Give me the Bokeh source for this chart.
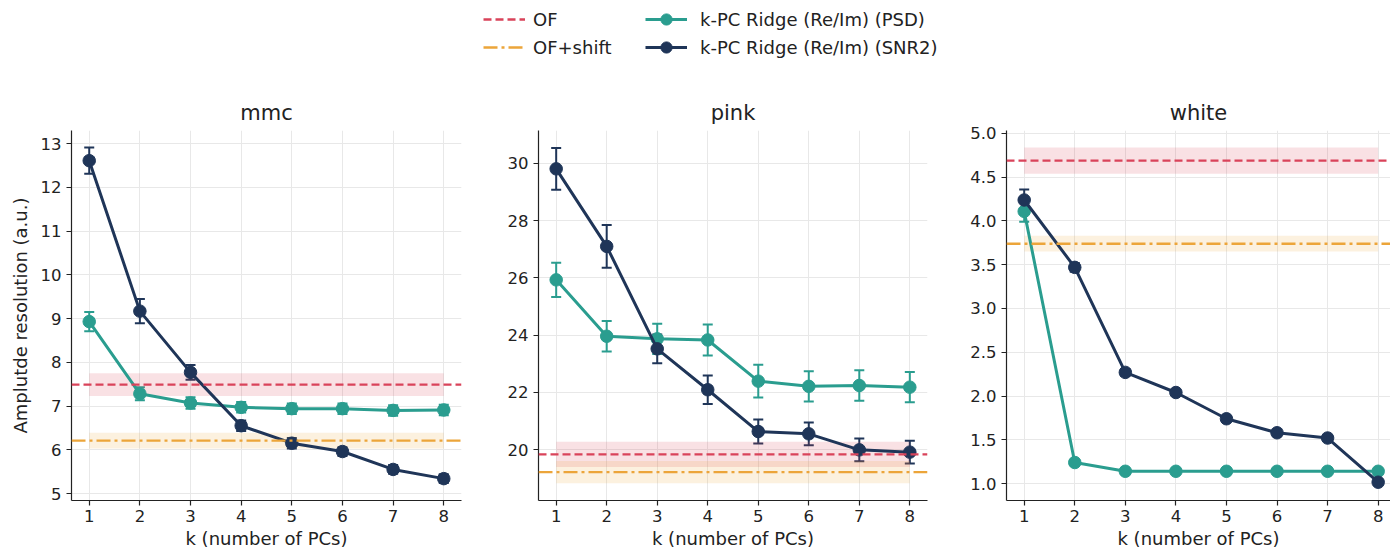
import math
from bokeh.plotting import figure
from bokeh.models import (Whisker, TeeHead, ColumnDataSource, Span, Legend, LegendItem,
                          Range1d, FixedTicker, NumeralTickFormatter)
from bokeh.layouts import column, row
from bokeh.embed import file_html
from bokeh.resources import INLINE

# ---------------- data ----------------
k = [1, 2, 3, 4, 5, 6, 7, 8]
panels = ["mmc", "pink", "white"]

mmc_psd = [8.93, 7.28, 7.07, 6.97, 6.94, 6.94, 6.90, 6.91]
mmc_psd_err = [0.22, 0.15, 0.13, 0.12, 0.12, 0.12, 0.12, 0.12]
mmc_snr2 = [12.61, 9.17, 7.77, 6.55, 6.15, 5.96, 5.55, 5.34]
mmc_snr2_err = [0.30, 0.28, 0.17, 0.12, 0.12, 0.10, 0.10, 0.10]
mmc_of = [7.49, 0.26]
mmc_ofs = [6.21, 0.18]

pink_psd = [25.93, 23.96, 23.87, 23.83, 22.39, 22.21, 22.24, 22.18]
pink_psd_err = [0.60, 0.53, 0.53, 0.54, 0.57, 0.53, 0.53, 0.53]
pink_snr2 = [29.81, 27.10, 23.52, 22.09, 20.63, 20.55, 19.99, 19.91]
pink_snr2_err = [0.73, 0.75, 0.50, 0.50, 0.42, 0.40, 0.40, 0.40]
pink_of = [19.83, 0.44]
pink_ofs = [19.21, 0.39]

white_psd = [4.11, 1.24, 1.14, 1.14, 1.14, 1.14, 1.14, 1.14]
white_psd_err = [0.12, 0.02, 0.01, 0.01, 0.01, 0.01, 0.01, 0.01]
white_snr2 = [4.24, 3.47, 2.27, 2.04, 1.74, 1.58, 1.52, 1.015]
white_snr2_err = [0.12, 0.05, 0.04, 0.03, 0.03, 0.03, 0.03, 0.03]
white_of = [4.69, 0.15]
white_ofs = [3.74, 0.09]

y_ticks_mmc = [5, 6, 7, 8, 9, 10, 11, 12, 13]
y_ticks_pink = [20, 22, 24, 26, 28, 30]
y_ticks_white = [1.0, 1.5, 2.0, 2.5, 3.0, 3.5, 4.0, 4.5, 5.0]

labels = ["OF", "OF+shift", "k-PC Ridge (Re/Im) (PSD)", "k-PC Ridge (Re/Im) (SNR2)"]

# ---------------- style ----------------
RED = "#d9435a"
ORANGE = "#eca53a"
TEAL = "#2a9d8f"
NAVY = "#1f3558"
FONT = "DejaVu Sans"
TXT = "#222222"
DASH = "8 4"
DASHDOT = "14 4 3 4"

def make_panel(title, psd, psd_err, snr, snr_err, of, ofs, yr, xr, yticks,
               width, left, right, ylabel=None, fmt=None):
    p = figure(width=width, height=463, output_backend="svg", toolbar_location=None,
               x_range=Range1d(*xr), y_range=Range1d(*yr),
               min_border_left=left, min_border_right=right,
               min_border_top=40, min_border_bottom=53)
    p.outline_line_color = None
    p.background_fill_color = "white"
    p.border_fill_color = "white"
    p.title.text = title
    p.title.align = "center"
    p.title.text_font = FONT
    p.title.text_font_size = "21px"
    p.title.text_font_style = "normal"
    p.title.text_color = TXT
    p.title.standoff = 11
    for ax in (p.xaxis[0], p.yaxis[0]):
        ax.axis_line_color = TXT
        ax.axis_line_width = 1.2
        ax.major_tick_line_color = TXT
        ax.major_tick_line_width = 1.2
        ax.major_tick_out = 5
        ax.major_tick_in = 0
        ax.minor_tick_line_color = None
        ax.major_label_text_font = FONT
        ax.major_label_text_font_size = "16.5px"
        ax.major_label_text_color = TXT
        ax.axis_label_text_font = FONT
        ax.axis_label_text_font_size = "18px"
        ax.axis_label_text_font_style = "normal"
        ax.axis_label_text_color = TXT
    p.xaxis.ticker = FixedTicker(ticks=k)
    p.xaxis.major_label_standoff = 4
    p.xaxis.axis_label = "k (number of PCs)"
    p.xaxis.axis_label_standoff = 3
    p.yaxis.ticker = FixedTicker(ticks=yticks)
    p.yaxis.major_label_standoff = 5
    if fmt:
        p.yaxis.formatter = NumeralTickFormatter(format=fmt)
    if ylabel:
        p.yaxis.axis_label = ylabel
        p.yaxis.axis_label_standoff = 7
    p.grid.grid_line_color = "#e8e8e8"
    p.grid.grid_line_width = 1

    # OF bands and lines
    p.varea(x=[k[0], k[-1]], y1=[of[0] - of[1]] * 2, y2=[of[0] + of[1]] * 2,
            fill_color=RED, fill_alpha=0.16)
    p.varea(x=[k[0], k[-1]], y1=[ofs[0] - ofs[1]] * 2, y2=[ofs[0] + ofs[1]] * 2,
            fill_color=ORANGE, fill_alpha=0.16)
    p.add_layout(Span(location=of[0], dimension="width", line_color=RED,
                      line_width=2.3, line_dash=DASH))
    p.add_layout(Span(location=ofs[0], dimension="width", line_color=ORANGE,
                      line_width=2.3, line_dash=DASHDOT))

    for vals, errs, col in ((psd, psd_err, TEAL), (snr, snr_err, NAVY)):
        src = ColumnDataSource(dict(x=k, y=vals,
                                    lo=[v - e for v, e in zip(vals, errs)],
                                    hi=[v + e for v, e in zip(vals, errs)]))
        w = Whisker(source=src, base="x", lower="lo", upper="hi", dimension="height",
                    line_color=col, line_width=2,
                    upper_head=TeeHead(size=10, line_color=col, line_width=2),
                    lower_head=TeeHead(size=10, line_color=col, line_width=2))
        p.add_layout(w)
        p.line("x", "y", source=src, line_color=col, line_width=3)
        p.scatter("x", "y", source=src, marker="circle", size=12.5,
                  fill_color=col, line_color=col)
    return p

f1 = make_panel("mmc", mmc_psd, mmc_psd_err, mmc_snr2, mmc_snr2_err, mmc_of, mmc_ofs,
                (4.84, 13.30), (0.65, 8.35), y_ticks_mmc, 475, 71, 14,
                ylabel="Amplutde resolution (a.u.)")
f2 = make_panel("pink", pink_psd, pink_psd_err, pink_snr2, pink_snr2_err, pink_of, pink_ofs,
                (18.22, 31.15), (0.65, 8.35), y_ticks_pink, 465, 63, 13)
f3 = make_panel("white", white_psd, white_psd_err, white_snr2, white_snr2_err, white_of, white_ofs,
                (0.806, 5.034), (0.65, 8.244), y_ticks_white, 450, 66, 0, fmt="0.0")

# ---------------- legend figure ----------------
lg = figure(width=1390, height=90, output_backend="svg", toolbar_location=None,
            x_range=Range1d(0, 1), y_range=Range1d(0, 1),
            min_border_left=0, min_border_right=0, min_border_top=0, min_border_bottom=0)
lg.axis.visible = False
lg.grid.visible = False
lg.outline_line_color = None

off = [-10, -9]
r_of = lg.line(off, [-10, -10], line_color=RED, line_width=2.3, line_dash=DASH)
r_ofs = lg.line(off, [-10, -10], line_color=ORANGE, line_width=2.3, line_dash=DASHDOT)
items2 = []
for lab, col in ((labels[2], TEAL), (labels[3], NAVY)):
    rl = lg.line(off, [-10, -10], line_color=col, line_width=3)
    rv = lg.scatter(off, [-10, -10], marker="cross", size=20,
                    line_color=col, line_width=2)
    rc = lg.scatter(off, [-10, -10], marker="circle", size=12.5, fill_color=col, line_color=col)
    items2.append(LegendItem(label=lab, renderers=[rl, rv, rc]))

def style_legend(leg, standoff):
    leg.border_line_color = None
    leg.background_fill_alpha = 0
    leg.label_text_font = FONT
    leg.label_text_font_size = "18px"
    leg.label_text_color = TXT
    leg.glyph_width = 42
    leg.glyph_height = 28
    leg.label_height = 21
    leg.spacing = 0
    leg.padding = 3
    leg.margin = 0
    leg.label_standoff = standoff

leg1 = Legend(items=[LegendItem(label=labels[0], renderers=[r_of]),
                     LegendItem(label=labels[1], renderers=[r_ofs])],
              location=(483, 29))
style_legend(leg1, 8)
leg2 = Legend(items=items2, location=(645, 29))
style_legend(leg2, 13)
lg.add_layout(leg1)
lg.add_layout(leg2)

layout = column(lg, row(f1, f2, f3))
open("out.html", "w").write(file_html(layout, INLINE))
